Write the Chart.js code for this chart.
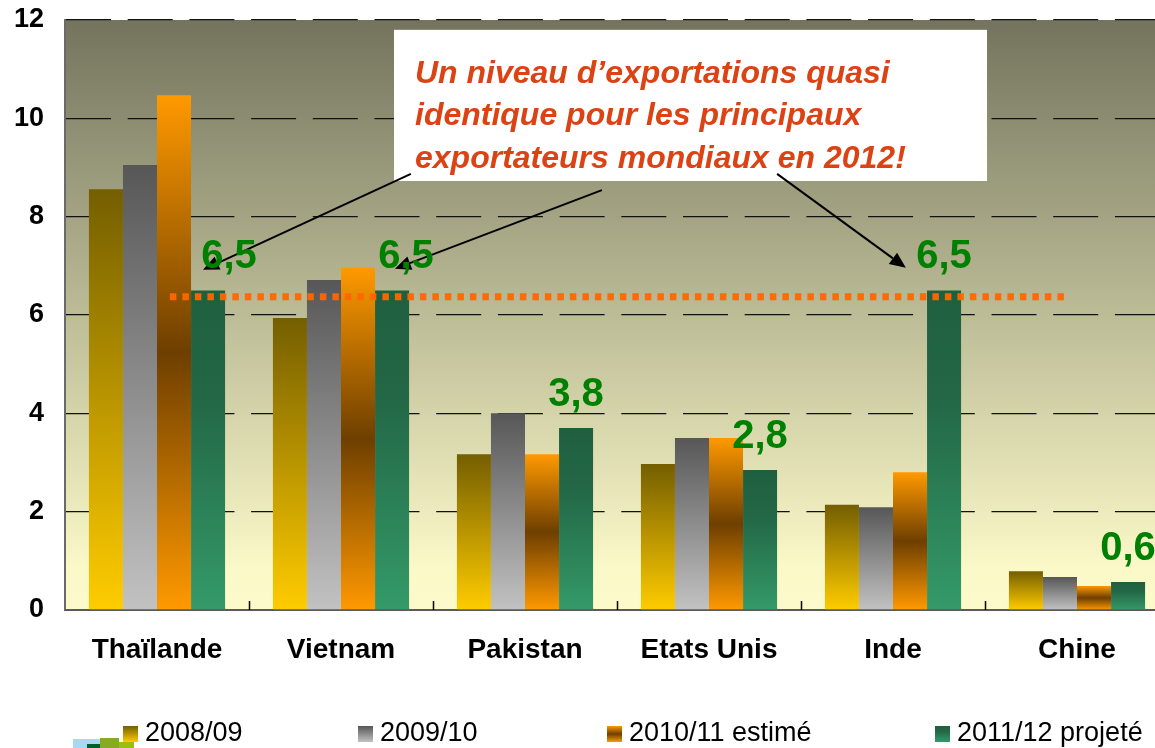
<!DOCTYPE html>
<html lang="fr">
<head>
<meta charset="utf-8">
<title>Exportations de riz</title>
<script src="https://cdn.jsdelivr.net/npm/chart.js@4.4.0/dist/chart.umd.min.js"></script>
<style>
  html, body { margin: 0; padding: 0; background: #fff; overflow: hidden; }
  #wrap { width: 1155px; height: 748px; overflow: hidden; }
</style>
</head>
<body>
<div id="wrap"><canvas id="chart" width="1170" height="748"></canvas></div>
<script>
/* ── data ── */
const countries   = ['Thaïlande', 'Vietnam', 'Pakistan', 'Etats Unis', 'Inde', 'Chine'];
const seriesNames = ['2008/09', '2009/10', '2010/11 estimé', '2011/12 projeté'];
const exp0809 = [8.56, 5.94, 3.17, 2.97, 2.14, 0.79];
const exp0910 = [9.05, 6.71, 4.00, 3.50, 2.09, 0.67];
const exp1011 = [10.47, 6.96, 3.17, 3.50, 2.80, 0.49];
const exp1112 = [6.50, 6.50, 3.70, 2.85, 6.50, 0.57];
const projLabels = ['6,5', '6,5', '3,8', '2,8', '6,5', '0,6'];
const yTicks = [0, 2, 4, 6, 8, 10, 12];
const commonLevel = 6.37;
const noteLines = [
  'Un niveau d’exportations quasi',
  'identique pour les principaux',
  'exportateurs mondiaux en 2012!'
];

/* ── look ── */
const FONT = '"Liberation Sans", Arial, sans-serif';
const barStops = [
  [[0, '#745e00'], [1, '#ffcc00']],
  [[0, '#575757'], [1, '#c2c2c2']],
  [[0, '#ff9900'], [0.5, '#6e3f00'], [1, '#ff9900']],
  [[0, '#1f5f3f'], [0.35, '#236847'], [1, '#349a68']]
];
const labelShift = [21, 14, 0, 0, 0, 0];   // hand placed labels, px
const legendX = [123, 358, 607, 935];

function vGradient(ctx, top, bottom, stops) {
  const g = ctx.createLinearGradient(0, top, 0, bottom);
  stops.forEach(([o, c]) => g.addColorStop(o, c));
  return g;
}

function barFill(si) {
  return c => {
    const y = c.chart.scales.y;
    if (!y || c.type !== 'data') return barStops[si][0][1];
    const top = y.getPixelForValue(c.raw), base = y.getPixelForValue(0);
    if (!isFinite(top) || !isFinite(base) || top === base) return barStops[si][0][1];
    return vGradient(c.chart.ctx, top, base, barStops[si]);
  };
}

/* ── plot background ── */
const plotBg = {
  id: 'plotBg',
  beforeDraw(chart) {
    const { ctx, chartArea: a } = chart;
    ctx.save();
    ctx.fillStyle = vGradient(ctx, a.top, a.bottom, [[0, '#74745e'], [0.5, '#bcbc97'], [0.93, '#fbf9c8'], [1, '#fcfacb']]);
    ctx.fillRect(a.left, a.top, a.right - a.left, a.bottom - a.top);
    ctx.restore();
  }
};

/* ── arrow helper ── */
function arrow(ctx, x1, y1, x2, y2) {
  const a = Math.atan2(y2 - y1, x2 - x1);
  const len = 16, half = 7;
  const bx = x2 - len * Math.cos(a), by = y2 - len * Math.sin(a);
  ctx.beginPath();
  ctx.moveTo(x1, y1);
  ctx.lineTo(bx, by);
  ctx.stroke();
  ctx.beginPath();
  ctx.moveTo(x2, y2);
  ctx.lineTo(bx + half * Math.sin(a), by - half * Math.cos(a));
  ctx.lineTo(bx - half * Math.sin(a), by + half * Math.cos(a));
  ctx.closePath();
  ctx.fill();
}

/* ── annotations: ticks, dotted level, note box, arrows, labels ── */
const annotations = {
  id: 'annotations',
  afterDatasetsDraw(chart) {
    const { ctx, chartArea: a, scales: { x, y } } = chart;
    ctx.save();

    // small inner ticks between categories
    ctx.strokeStyle = '#000';
    ctx.lineWidth = 1.5;
    for (let i = 1; i < countries.length; i++) {
      const px = Math.round(x.getPixelForValue(i - 0.5)) + 0.5;
      ctx.beginPath();
      ctx.moveTo(px, a.bottom - 9);
      ctx.lineTo(px, a.bottom);
      ctx.stroke();
    }

    // dotted common level
    ctx.strokeStyle = 'rgba(255, 102, 0, 0.95)';
    ctx.lineWidth = 7;
    ctx.setLineDash([6.5, 6]);
    const ly = y.getPixelForValue(commonLevel);
    ctx.beginPath();
    ctx.moveTo(x.getPixelForValue(0.07), ly);
    ctx.lineTo(x.getPixelForValue(4.95), ly);
    ctx.stroke();
    ctx.setLineDash([]);

    // note box
    const bx1 = x.getPixelForValue(1.288), bx2 = x.getPixelForValue(4.511);
    const by1 = y.getPixelForValue(11.80), by2 = y.getPixelForValue(8.725);
    ctx.fillStyle = '#ffffff';
    ctx.fillRect(bx1, by1, bx2 - bx1, by2 - by1);
    ctx.fillStyle = '#dc4314';
    ctx.font = 'italic bold 32px ' + FONT;
    ctx.textAlign = 'left';
    ctx.textBaseline = 'alphabetic';
    noteLines.forEach((t, i) => ctx.fillText(t, bx1 + 21, by1 + 53 + i * 42.5));

    // arrows
    ctx.strokeStyle = '#000';
    ctx.fillStyle = '#000';
    ctx.lineWidth = 2;
    [
      [1.38, 8.87, 0.25, 6.92],
      [2.418, 8.54, 1.293, 6.94],
      [3.37, 8.87, 4.07, 6.96]
    ].forEach(([i1, v1, i2, v2]) =>
      arrow(ctx, x.getPixelForValue(i1), y.getPixelForValue(v1), x.getPixelForValue(i2), y.getPixelForValue(v2)));

    // projected values
    const meta = chart.getDatasetMeta(3);
    ctx.fillStyle = '#008000';
    ctx.font = 'bold 40px ' + FONT;
    ctx.textAlign = 'center';
    meta.data.forEach((bar, i) => {
      ctx.fillText(projLabels[i], bar.x + labelShift[i], bar.y - 22);
    });
    ctx.restore();
  },

  /* ── legend + logo ── */
  afterDraw(chart) {
    const ctx = chart.ctx;
    ctx.save();
    ctx.font = '27px ' + FONT;
    ctx.textAlign = 'left';
    ctx.textBaseline = 'alphabetic';
    const top = 726, size = 16;
    seriesNames.forEach((name, i) => {
      const lx = legendX[i];
      ctx.fillStyle = vGradient(ctx, top, top + size, barStops[i]);
      ctx.fillRect(lx, top, size - 1, size);
      ctx.fillStyle = '#000';
      ctx.fillText(name, lx + 22, 741);
    });

    // small logo corner
    ctx.fillStyle = '#a9d9f0'; ctx.fillRect(73, 739, 27, 9);
    ctx.fillStyle = '#00602a'; ctx.fillRect(87, 744, 14, 4);
    ctx.fillStyle = '#88aa22'; ctx.fillRect(100, 738, 19, 10);
    ctx.fillStyle = '#99c010'; ctx.fillRect(119, 742, 15, 6);
    ctx.restore();
  }
};

/* ── chart ── */
const seriesValues = [exp0809, exp0910, exp1011, exp1112];

const chart = new Chart(document.getElementById('chart'), {
  type: 'bar',
  data: {
    labels: countries,
    datasets: seriesNames.map((name, i) => ({
      label: name,
      data: seriesValues[i],
      backgroundColor: barFill(i),
      borderWidth: 0,
      categoryPercentage: 0.74,
      barPercentage: 1.0
    }))
  },
  options: {
    responsive: false,
    devicePixelRatio: 1,
    animation: false,
    events: [],
    layout: { padding: { top: 20, left: 0, right: 1, bottom: 0 } },
    plugins: {
      legend: { display: false },
      tooltip: { enabled: false }
    },
    scales: {
      x: {
        grid: { display: false, drawTicks: false },
        border: { display: true, color: '#5a5a5a', width: 2 },
        ticks: { color: '#000', padding: 23, font: { family: FONT, size: 28, weight: 'bold' } },
        afterFit: s => { s.height = 138; s.paddingLeft = 0; s.paddingRight = 0; }
      },
      y: {
        min: 0,
        max: 12,
        afterBuildTicks: s => { s.ticks = yTicks.map(v => ({ value: v })); },
        grid: { color: '#111', lineWidth: 1.3, drawTicks: false },
        border: { display: true, color: '#6a6a6a', width: 2, dash: [45, 16.7] },
        ticks: { color: '#000', padding: 21, font: { family: FONT, size: 27, weight: 'bold' } },
        afterFit: s => { s.width = 65; s.paddingTop = 0; s.paddingBottom = 0; }
      }
    }
  },
  plugins: [plotBg, annotations]
});
chart.update();
</script>
</body>
</html>
